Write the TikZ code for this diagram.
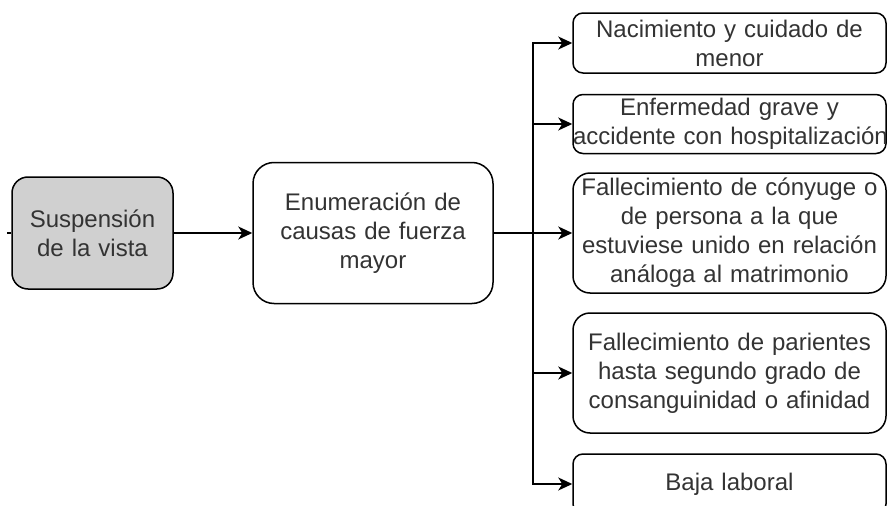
\documentclass[tikz,border=0pt]{standalone}
\usepackage{fontspec}
\setmainfont{Liberation Sans}
\usetikzlibrary{arrows.meta}
\definecolor{boxgray}{RGB}{208,208,208}
\definecolor{txtgray}{RGB}{51,51,51}
\tikzstyle{proceso} = [draw=black, line width=1.5pt, fill=white, inner sep=0pt, align=center, text=txtgray, font=\fontsize{24}{29}\selectfont]
\tikzstyle{causa} = [proceso, rounded corners=10pt, minimum width=313pt, text width=313pt]
\tikzstyle{flecha} = [line width=1.5pt, -{Stealth[length=14pt, width=13pt, inset=4pt]}]

\begin{document}
\begin{tikzpicture}[x=1pt, y=-1pt]

		\useasboundingbox (0,0) rectangle (887,506);
		\clip (0,0) rectangle (887,506);

		\node [proceso, fill=boxgray, rounded corners=16pt, minimum width=161pt, minimum height=112pt, text width=150pt] (susp) at (92.5,233) {Suspensión\\de la vista};
		\node [proceso, rounded corners=21pt, minimum width=240pt, minimum height=141pt, text width=225pt] (enum) at (373,233) {Enumeración de\\causas de fuerza\\mayor};

		\node [causa, minimum height=60pt] (nac) at (729.5,43) {Nacimiento y cuidado de\\menor};
		\node [causa, minimum height=59pt] (enf) at (729.5,124) {Enfermedad grave y\\\mbox{accidente con hospitalización}};
		\node [causa, minimum height=120pt, rounded corners=17pt] (fallc) at (729.5,233) {Fallecimiento de cónyuge o\\de persona a la que\\estuviese unido en relación\\análoga al matrimonio};
		\node [causa, minimum height=120pt, rounded corners=17pt] (fallp) at (729.5,373) {Fallecimiento de parientes\\hasta segundo grado de\\consanguinidad o afinidad};
		\node [causa, minimum height=60pt] (baja) at (729.5,484) {Baja laboral};

		\coordinate (entrada) at (7,233);
		\coordinate (tronco) at (533,233);

		\draw [line width=1.5pt] (entrada) -- (susp);
		\draw [flecha] (susp) -- (enum);
		\draw [line width=1.5pt] (enum) -- (tronco);
		\draw [flecha] (tronco) |- (nac);
		\draw [flecha] (tronco) |- (enf);
		\draw [flecha] (tronco) -- (fallc);
		\draw [flecha] (tronco) |- (fallp);
		\draw [flecha] (tronco) |- (baja);

	\end{tikzpicture}
\end{document}
